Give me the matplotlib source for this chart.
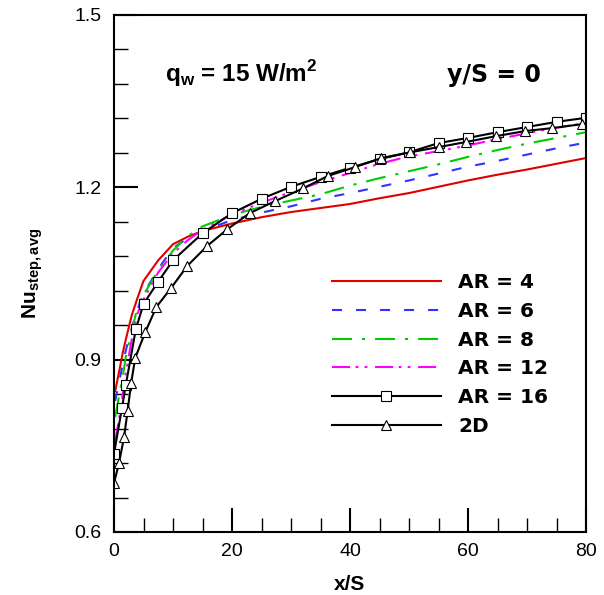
import matplotlib
matplotlib.use('Agg')
import matplotlib.pyplot as plt
from matplotlib.ticker import MultipleLocator

plt.rcParams['font.family'] = ['Liberation Sans', 'DejaVu Sans']
plt.rcParams['mathtext.fontset'] = 'custom'
plt.rcParams['mathtext.rm'] = 'Liberation Sans'
plt.rcParams['mathtext.bf'] = 'Liberation Sans:bold'
plt.rcParams['mathtext.sf'] = 'Liberation Sans:bold'
plt.rcParams['lines.scale_dashes'] = False

# x/S positions shared by the coloured curves
x_ar = [0.2, 1, 1.5, 2, 3, 4, 5, 7.5, 10, 12.5, 15, 20, 25, 30, 35, 40, 45, 50, 55, 60, 65, 70, 75, 80]

nu_ar4 = [0.845, 0.886, 0.913, 0.935, 0.977, 1.008, 1.037, 1.073, 1.101, 1.114, 1.124, 1.137,
          1.148, 1.157, 1.164, 1.171, 1.181, 1.190, 1.201, 1.212, 1.222, 1.231, 1.241, 1.251]
nu_ar6 = [0.828, 0.868, 0.893, 0.916, 0.955, 0.988, 1.015, 1.058, 1.094, 1.112, 1.124, 1.143,
          1.156, 1.167, 1.180, 1.190, 1.201, 1.212, 1.224, 1.236, 1.246, 1.257, 1.268, 1.278]
nu_ar8 = [0.800, 0.845, 0.872, 0.905, 0.950, 0.992, 1.013, 1.055, 1.090, 1.115, 1.132, 1.152,
          1.166, 1.177, 1.188, 1.203, 1.216, 1.228, 1.240, 1.253, 1.265, 1.276, 1.286, 1.296]
nu_ar12 = [0.758, 0.805, 0.842, 0.877, 0.935, 0.981, 1.005, 1.052, 1.085, 1.108, 1.126, 1.153,
           1.173, 1.192, 1.209, 1.225, 1.241, 1.254, 1.263, 1.273, 1.284, 1.294, 1.304, 1.312]

x_ar16 = [0, 1.35, 2, 3.7, 5, 7.5, 10, 15, 20, 25, 30, 35, 40, 45, 50, 55, 60, 65, 70, 75, 80]
nu_ar16 = [0.736, 0.816, 0.856, 0.953, 0.997, 1.036, 1.073, 1.120, 1.155, 1.180, 1.201, 1.218,
           1.234, 1.249, 1.261, 1.277, 1.286, 1.296, 1.305, 1.314, 1.321]

x_2d = [0, 0.85, 1.7, 2.3, 2.9, 3.6, 5.3, 7.2, 9.7, 12.4, 15.8, 19.2, 23, 27.3, 32, 36.3,
        40.8, 45.3, 50.2, 55, 59.7, 64.7, 69.7, 74.2, 79.3]
nu_2d = [0.685, 0.720, 0.765, 0.810, 0.859, 0.903, 0.948, 0.992, 1.025, 1.063, 1.098, 1.127,
         1.155, 1.176, 1.198, 1.220, 1.235, 1.251, 1.261, 1.270, 1.279, 1.289, 1.298, 1.303, 1.310]

labels = ['AR = 4', 'AR = 6', 'AR = 8', 'AR = 12', 'AR = 16', '2D']

fig = plt.figure(figsize=(6.04, 5.95), dpi=100)
ax = fig.add_axes([114/604, 1-532/595, 472/604, 517/595])

ax.plot(x_ar, nu_ar4, color='#e00000', lw=1.5, label=labels[0])
ax.plot(x_ar, nu_ar6, color='#3333ff', lw=1.5, dashes=(7.2, 10.1), label=labels[1])
ax.plot(x_ar, nu_ar8, color='#00cc00', lw=1.5, dashes=(14.4, 7.2, 2.2, 7.2), label=labels[2])
ax.plot(x_ar, nu_ar12, color='#ff00ff', lw=1.5, dashes=(13, 4, 2, 4.5, 2, 5.5), label=labels[3])
ax.plot(x_ar16, nu_ar16, color='black', lw=1.5, marker='s', ms=7, mfc='white', mew=0.8,
        label=labels[4])
ax.plot(x_2d, nu_2d, color='black', lw=1.5, marker='^', ms=7.5, mfc='white', mew=0.8,
        label=labels[5])

ax.set_xlim(0, 80)
ax.set_ylim(0.6, 1.5)
ax.xaxis.set_major_locator(MultipleLocator(20))
ax.xaxis.set_minor_locator(MultipleLocator(5))
ax.yaxis.set_minor_locator(MultipleLocator(0.06))
ax.set_yticks([0.6, 0.9, 1.2, 1.5])
ax.set_yticklabels(['0.6', '0.9', '1.2', '1.5'])

ax.tick_params(which='both', direction='in', top=False, right=False, labelsize=14)
ax.tick_params(which='major', length=17, width=1.5)
ax.tick_params(which='minor', length=10, width=1.0)
ax.tick_params(axis='y', which='major', pad=9)
ax.tick_params(axis='x', which='major', pad=8)
for s in ax.spines.values():
    s.set_linewidth(1.5)

ax.set_xlabel('x/S', fontsize=15, fontweight='bold', labelpad=11)
ax.set_ylabel(r'Nu$_{\mathsf{step,avg}}$', fontsize=15, fontweight='bold', labelpad=21)

ax.text(8.6, 1.383, r'q$_{\mathbf{w}}$ = 15 W/m$^{\mathbf{2}}$', fontsize=17.5, fontweight='bold')
ax.text(56.4, 1.383, 'y/S = 0', fontsize=17, fontweight='bold', family='DejaVu Sans')

ax.legend(loc='upper left', bbox_to_anchor=(0.462, 0.5), frameon=False,
          prop={'family': 'DejaVu Sans', 'size': 14.5, 'weight': 'bold'},
          handlelength=5.4, handletextpad=0.85, labelspacing=0.48, borderpad=0, borderaxespad=0)

fig.savefig('out.png', dpi=100)
